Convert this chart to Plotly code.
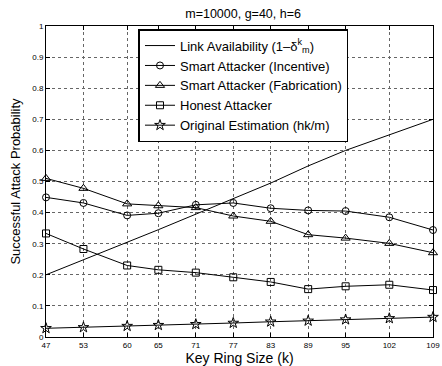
import plotly.graph_objects as go

k_values = [47, 53, 60, 65, 71, 77, 83, 89, 95, 102, 109]
link_availability = [0.200, 0.248, 0.305, 0.345, 0.395, 0.445, 0.495, 0.550, 0.600, 0.650, 0.700]
smart_incentive = [0.449, 0.431, 0.391, 0.398, 0.425, 0.431, 0.414, 0.407, 0.405, 0.385, 0.344]
smart_fabrication = [0.510, 0.478, 0.428, 0.422, 0.416, 0.389, 0.372, 0.329, 0.318, 0.301, 0.271]
honest_attacker = [0.333, 0.283, 0.230, 0.216, 0.207, 0.192, 0.177, 0.154, 0.163, 0.168, 0.151]
original_estimation = [0.028, 0.031, 0.035, 0.038, 0.041, 0.045, 0.049, 0.052, 0.056, 0.060, 0.064]
y_ticks = [0, 0.1, 0.2, 0.3, 0.4, 0.5, 0.6, 0.7, 0.8, 0.9, 1]
y_tick_labels = ["0", "0.1", "0.2", "0.3", "0.4", "0.5", "0.6", "0.7", "0.8", "0.9", "1"]

FONT = "Liberation Sans, Arial, Helvetica, sans-serif"

series = [
    ("Link Availability (1\u2013\u03b4<sup>k</sup><sub>m</sub>)", link_availability, None, 7),
    ("Smart Attacker (Incentive)", smart_incentive, "circle-open", 7),
    ("Smart Attacker (Fabrication)", smart_fabrication, "triangle-up-open", 8),
    ("Honest Attacker", honest_attacker, "square-open", 7),
    ("Original Estimation (hk/m)", original_estimation, "star-open", 8),
]

fig = go.Figure()
for name, vals, sym, size in series:
    if sym is None:
        fig.add_trace(go.Scatter(x=k_values, y=vals, name=name, mode="lines",
                                 line=dict(color="black", width=1)))
    else:
        fig.add_trace(go.Scatter(x=k_values, y=vals, name=name, mode="lines+markers",
                                 line=dict(color="black", width=1),
                                 marker=dict(symbol=sym, size=size, color="black",
                                             line=dict(width=1, color="black")),
                                 cliponaxis=False))

axis_common = dict(
    showline=True, linecolor="black", linewidth=1, mirror="allticks",
    ticks="inside", ticklen=4, tickcolor="black",
    showgrid=True, gridcolor="#666666", griddash="dot", gridwidth=1,
    zeroline=False, tickfont=dict(size=8, color="black", family=FONT),
)

fig.update_layout(
    width=442, height=366,
    margin=dict(l=46, r=2, t=26, b=29),
    paper_bgcolor="white", plot_bgcolor="white",
    font=dict(family=FONT, color="black"),
    title=dict(text="m=10000, g=40, h=6", x=0.55, xanchor="center", y=0.962, yanchor="middle",
               font=dict(size=12.5, family=FONT, color="black")),
    xaxis=dict(range=[47, 109], tickvals=k_values, ticktext=[str(k) for k in k_values],
               ticklabeloverflow="allow",
               title=dict(text="Key Ring Size (k)", font=dict(size=14, family=FONT), standoff=3),
               **axis_common),
    yaxis=dict(range=[0, 1], tickvals=y_ticks, ticktext=y_tick_labels,
               title=dict(text="Successful Attack Probability", font=dict(size=13, family=FONT), standoff=8),
               **axis_common),
    legend=dict(x=0.239, y=0.99, xanchor="left", yanchor="top",
                bgcolor="white", bordercolor="black", borderwidth=1.5,
                font=dict(size=13, family=FONT, color="black"),
                itemwidth=30, tracegroupgap=0),
    showlegend=True,
)

fig.write_html("out.html")
